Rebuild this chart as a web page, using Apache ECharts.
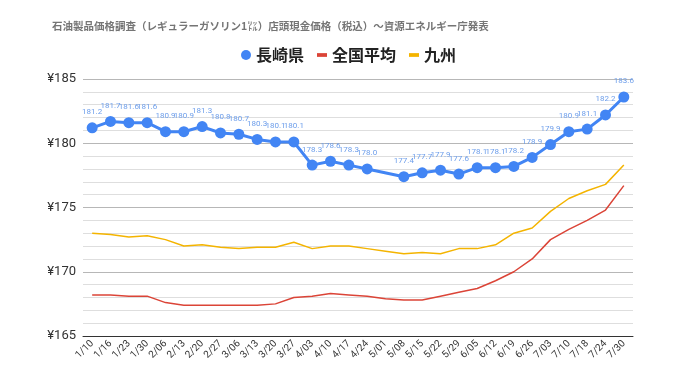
<!DOCTYPE html>
<html><head><meta charset="utf-8">
<script src="https://cdn.jsdelivr.net/npm/echarts@6/dist/echarts.min.js"></script>
<style>html,body{margin:0;padding:0;background:#fff}#c{width:680px;height:382px}</style>
</head><body><div id="c"></div>
<script>
const categories = ['1/10','1/16','1/23','1/30','2/06','2/13','2/20','2/27','3/06','3/13','3/20','3/27','4/03','4/10','4/17','4/24','5/01','5/08','5/15','5/22','5/29','6/05','6/12','6/19','6/26','7/03','7/10','7/18','7/24','7/30'];
const nagasaki = [181.2,181.7,181.6,181.6,180.9,180.9,181.3,180.8,180.7,180.3,180.1,180.1,178.3,178.6,178.3,178.0,null,177.4,177.7,177.9,177.6,178.1,178.1,178.2,178.9,179.9,180.9,181.1,182.2,183.6];
const national = [168.2,168.2,168.1,168.1,167.6,167.4,167.4,167.4,167.4,167.4,167.5,168.0,168.1,168.3,168.2,168.1,167.9,167.8,167.8,168.1,168.4,168.7,169.3,170.0,171.0,172.5,173.3,174.0,174.8,176.7];
const kyushu = [173.0,172.9,172.7,172.8,172.5,172.0,172.1,171.9,171.8,171.9,171.9,172.3,171.8,172.0,172.0,171.8,171.6,171.4,171.5,171.4,171.8,171.8,172.1,173.0,173.4,174.7,175.7,176.3,176.8,178.3];
const yTicks = [165,170,175,180,185];
const titleText = '石油製品価格調査（レギュラーガソリン1㍑）店頭現金価格（税込）～資源エネルギー庁発表';
const names = ['長崎県','全国平均','九州'];

const chart = echarts.init(document.getElementById('c'), null, {renderer:'canvas'});
const font = '"Noto Sans CJK JP","Noto Sans",sans-serif';
const dash = 'path://M0,0h8v3h-8z';
chart.setOption({
  animation:false,
  textStyle:{fontFamily:font},
  title:{text:titleText,left:47,top:16,textStyle:{fontSize:10.5,fontWeight:'bold',color:'#757575',fontFamily:font}},
  legend:{
    left:236, top:42, itemGap:13, itemWidth:10, itemHeight:10,
    textStyle:{fontSize:16,fontWeight:'bold',color:'#222',fontFamily:font},
    data:[{name:names[0],icon:'circle'},{name:names[1],icon:dash},{name:names[2],icon:dash}]
  },
  grid:{left:83,right:47,top:79,bottom:46},
  xAxis:{
    type:'category', data:categories, boundaryGap:true,
    axisLine:{lineStyle:{color:'#333',width:1}},
    axisTick:{alignWithLabel:true,length:5,lineStyle:{color:'#333'}},
    axisLabel:{rotate:45,fontSize:10,color:'#333',margin:6,interval:0,fontFamily:'Roboto,sans-serif'}
  },
  yAxis:{
    type:'value', min:yTicks[0], max:yTicks[yTicks.length-1], interval:5,
    axisLine:{show:false}, axisTick:{show:false},
    axisLabel:{formatter:v=>'¥'+v,fontSize:13,color:'#333',margin:7,fontFamily:'Roboto,sans-serif'},
    splitLine:{lineStyle:{color:'#b7b7b7',width:1}},
    minorTick:{show:false,splitNumber:5},
    minorSplitLine:{show:true,lineStyle:{color:'#dedede',width:1}}
  },
  series:[
    {name:names[0],type:'line',data:nagasaki,connectNulls:true,
     symbol:'circle',symbolSize:11,showAllSymbol:true,
     lineStyle:{color:'#4285F4',width:3},itemStyle:{color:'#4285F4'},
     label:{show:true,position:'top',distance:6,fontSize:8,color:'#6d9eeb',formatter:p=>p.value.toFixed(1),fontFamily:'Roboto,sans-serif'},
     z:5},
    {name:names[1],type:'line',data:national,symbol:'none',
     lineStyle:{color:'#DB4437',width:1.5},itemStyle:{color:'#DB4437'}},
    {name:names[2],type:'line',data:kyushu,symbol:'none',
     lineStyle:{color:'#F4B400',width:1.5},itemStyle:{color:'#F4B400'}}
  ]
});
</script></body></html>
